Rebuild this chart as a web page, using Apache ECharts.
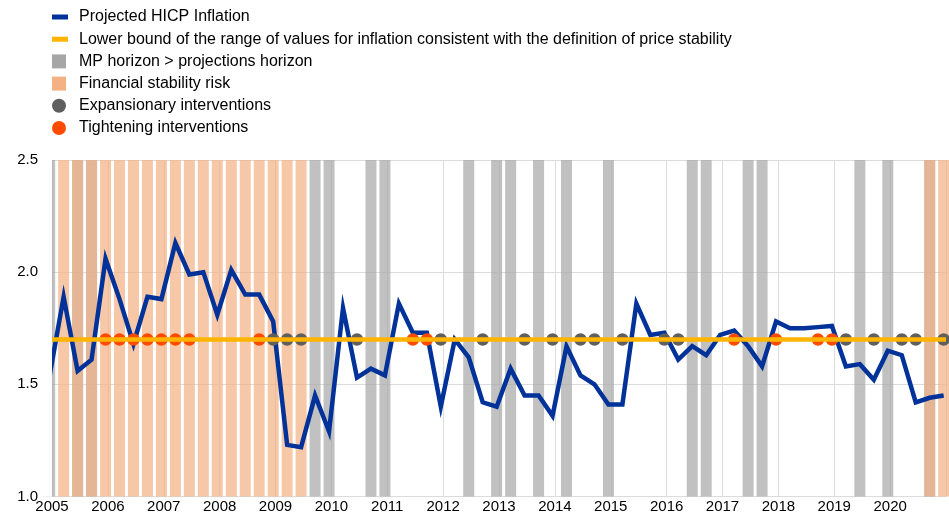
<!DOCTYPE html>
<html>
<head>
<meta charset="utf-8">
<script src="https://cdn.jsdelivr.net/npm/echarts@6/dist/echarts.min.js"></script>
<style>
html,body{margin:0;padding:0;background:#fff;}
#chart{width:949px;height:517px;}
</style>
</head>
<body>
<div id="chart"></div>
<script>
// ---- Data ----
const quarters = [
  '2004Q4',
  '2005Q1','2005Q2','2005Q3','2005Q4',
  '2006Q1','2006Q2','2006Q3','2006Q4',
  '2007Q1','2007Q2','2007Q3','2007Q4',
  '2008Q1','2008Q2','2008Q3','2008Q4',
  '2009Q1','2009Q2','2009Q3','2009Q4',
  '2010Q1','2010Q2','2010Q3','2010Q4',
  '2011Q1','2011Q2','2011Q3','2011Q4',
  '2012Q1','2012Q2','2012Q3','2012Q4',
  '2013Q1','2013Q2','2013Q3','2013Q4',
  '2014Q1','2014Q2','2014Q3','2014Q4',
  '2015Q1','2015Q2','2015Q3','2015Q4',
  '2016Q1','2016Q2','2016Q3','2016Q4',
  '2017Q1','2017Q2','2017Q3','2017Q4',
  '2018Q1','2018Q2','2018Q3','2018Q4',
  '2019Q1','2019Q2','2019Q3','2019Q4',
  '2020Q1','2020Q2','2020Q3','2020Q4'
];
const hicpInflation = [
  1.54,
  1.89, 1.56, 1.61, 2.06,
  1.88, 1.68, 1.89, 1.88,
  2.13, 1.99, 2.00, 1.81,
  2.01, 1.90, 1.90, 1.78,
  1.23, 1.22, 1.45, 1.29,
  1.84, 1.53, 1.57, 1.54,
  1.86, 1.73, 1.73, 1.40,
  1.70, 1.62, 1.42, 1.40,
  1.57, 1.45, 1.45, 1.36,
  1.67, 1.54, 1.50, 1.41,
  1.41, 1.86, 1.72, 1.73,
  1.61, 1.67, 1.63, 1.72,
  1.74, 1.67, 1.58, 1.78,
  1.75, 1.75, 1.755, 1.76,
  1.58, 1.59, 1.52, 1.65,
  1.63, 1.42, 1.44, 1.45
];
const lowerBound = 1.7;
const mpHorizonQuarters = [
  '2004Q4','2005Q2','2005Q3','2009Q3','2009Q4','2010Q3','2010Q4',
  '2012Q2','2012Q4','2013Q1','2013Q3','2014Q1','2014Q4',
  '2016Q2','2016Q3','2017Q2','2017Q3','2019Q2','2019Q4','2020Q3'
];
const finStabRiskQuarters = [
  '2005Q1','2005Q2','2005Q3','2005Q4',
  '2006Q1','2006Q2','2006Q3','2006Q4',
  '2007Q1','2007Q2','2007Q3','2007Q4',
  '2008Q1','2008Q2','2008Q3','2008Q4',
  '2009Q1','2009Q2',
  '2020Q3','2020Q4'
];
const expansionaryQuarters = [
  '2008Q4','2009Q1','2009Q2','2010Q2','2011Q4','2012Q3','2013Q2','2013Q4',
  '2014Q2','2014Q3','2015Q1','2015Q4','2016Q1','2019Q1','2019Q3',
  '2020Q1','2020Q2','2020Q4'
];
const tighteningQuarters = [
  '2005Q4','2006Q1','2006Q2','2006Q3','2006Q4','2007Q1','2007Q2',
  '2008Q3','2011Q2','2011Q3','2017Q1','2017Q4','2018Q3','2018Q4'
];
const yearLabels = [2005,2006,2007,2008,2009,2010,2011,2012,2013,2014,2015,2016,2017,2018,2019,2020];
const yTickLabels = [1.0, 1.5, 2.0, 2.5];
const seriesNames = [
  'Projected HICP Inflation',
  'Lower bound of the range of values for inflation consistent with the definition of price stability',
  'MP horizon > projections horizon',
  'Financial stability risk',
  'Expansionary interventions',
  'Tightening interventions'
];

// ---- Helpers: quarter label -> position on a monthly date axis (quarter-end month) ----
function qPos(q) {
  const y = parseInt(q.slice(0, 4), 10);
  const n = parseInt(q.slice(5), 10);
  return y + (3 * n - 0.5) / 12;
}

const C_BLUE = '#003299', C_YELLOW = '#ffb400', C_GREY = '#a6a6a6', C_ORANGE = '#f4b183',
      C_DOT_GREY = '#5f5f5f', C_DOT_ORANGE = '#ff4b00';
const FONT = "'Liberation Sans', Arial, sans-serif";
const GRID = {left: 52, right: 2, top: 160, bottom: 20.5};

const lineIcon = 'path://M0,0M0,4.5h16v5h-16zM22,14';
const squareIcon = 'path://M0,0h14v14h-14zM22,14';
const circleIcon = 'path://M0,7a7,7 0 1,0 14,0a7,7 0 1,0 -14,0zM0,0M22,14';

const chart = echarts.init(document.getElementById('chart'), null, {renderer: 'canvas'});
chart.setOption({
  animation: false,
  backgroundColor: '#ffffff',
  textStyle: {fontFamily: FONT},
  grid: Object.assign({containLabel: false}, GRID),
  // white mask left of the plot area: the series is clipped at the plot's left edge
  graphic: [{
    type: 'rect', z: 100, silent: true,
    shape: {x: GRID.left - 12, y: GRID.top - 6, width: 12, height: 517 - GRID.bottom - GRID.top + 6},
    style: {fill: '#ffffff'}
  }],
  legend: {
    orient: 'vertical', left: 52, top: 9, padding: 0,
    itemWidth: 22, itemHeight: 14, itemGap: 6.2,
    selectedMode: false,
    textStyle: {fontSize: 16, color: '#000', fontFamily: FONT},
    data: [
      {name: seriesNames[0], icon: lineIcon, itemStyle: {color: C_BLUE, opacity: 1, borderWidth: 0}},
      {name: seriesNames[1], icon: lineIcon, itemStyle: {color: C_YELLOW, opacity: 1, borderWidth: 0}},
      {name: seriesNames[2], icon: squareIcon, itemStyle: {color: C_GREY, opacity: 1, borderWidth: 0}},
      {name: seriesNames[3], icon: squareIcon, itemStyle: {color: C_ORANGE, opacity: 1, borderWidth: 0}},
      {name: seriesNames[4], icon: circleIcon, itemStyle: {color: C_DOT_GREY, opacity: 1, borderWidth: 0}},
      {name: seriesNames[5], icon: circleIcon, itemStyle: {color: C_DOT_ORANGE, opacity: 1, borderWidth: 0}}
    ]
  },
  xAxis: {
    type: 'value', min: 2005, max: 2021, interval: 1,
    axisLine: {show: false}, axisTick: {show: false},
    axisLabel: {
      fontSize: 15, color: '#000', margin: 3, fontFamily: FONT,
      formatter: v => yearLabels.indexOf(Math.round(v)) >= 0 && Math.abs(v - Math.round(v)) < 1e-6 ? String(Math.round(v)) : ''
    },
    splitLine: {show: true, lineStyle: {color: '#dcdcdc', width: 1}}
  },
  yAxis: [
    {
      type: 'value', min: yTickLabels[0], max: yTickLabels[yTickLabels.length - 1], interval: 0.5,
      axisLine: {show: false}, axisTick: {show: false},
      axisLabel: {fontSize: 15, color: '#000', margin: 14, fontFamily: FONT, formatter: v => v.toFixed(1)},
      splitLine: {show: true, lineStyle: {color: '#dcdcdc', width: 1}}
    },
    {type: 'value', min: 0, max: 1, show: false}
  ],
  series: [
    {
      name: seriesNames[2], type: 'bar', yAxisIndex: 1, barWidth: 11, barGap: '-100%', clip: true,
      itemStyle: {color: C_GREY, opacity: 0.7}, z: 1, silent: true,
      data: mpHorizonQuarters.map(q => [qPos(q), 1])
    },
    {
      name: seriesNames[3], type: 'bar', yAxisIndex: 1, barWidth: 11, barGap: '-100%', clip: false,
      itemStyle: {color: C_ORANGE, opacity: 0.7}, z: 1, silent: true,
      data: finStabRiskQuarters.map(q => [qPos(q), 1])
    },
    {
      name: seriesNames[1], type: 'line', data: [], symbol: 'none', z: 2,
      itemStyle: {color: C_YELLOW}, lineStyle: {color: C_YELLOW, width: 4.5},
      markLine: {
        silent: true, symbol: ['none', 'none'], label: {show: false}, animation: false,
        lineStyle: {color: C_YELLOW, width: 4.5, type: 'solid'},
        data: [{yAxis: lowerBound}]
      }
    },
    {
      name: seriesNames[0], type: 'line', symbol: 'none', z: 3, clip: true,
      itemStyle: {color: C_BLUE}, lineStyle: {color: C_BLUE, width: 4.5, join: 'miter'},
      data: quarters.map((q, i) => [qPos(q), hicpInflation[i]])
    },
    {
      name: seriesNames[4], type: 'scatter', symbol: 'circle', symbolSize: 12.5, z: 4,
      itemStyle: {color: C_DOT_GREY, opacity: 1},
      data: expansionaryQuarters.map(q => [qPos(q), lowerBound])
    },
    {
      name: seriesNames[5], type: 'scatter', symbol: 'circle', symbolSize: 12.5, z: 4,
      itemStyle: {color: C_DOT_ORANGE, opacity: 1},
      data: tighteningQuarters.map(q => [qPos(q), lowerBound])
    }
  ]
});
</script>
</body>
</html>
